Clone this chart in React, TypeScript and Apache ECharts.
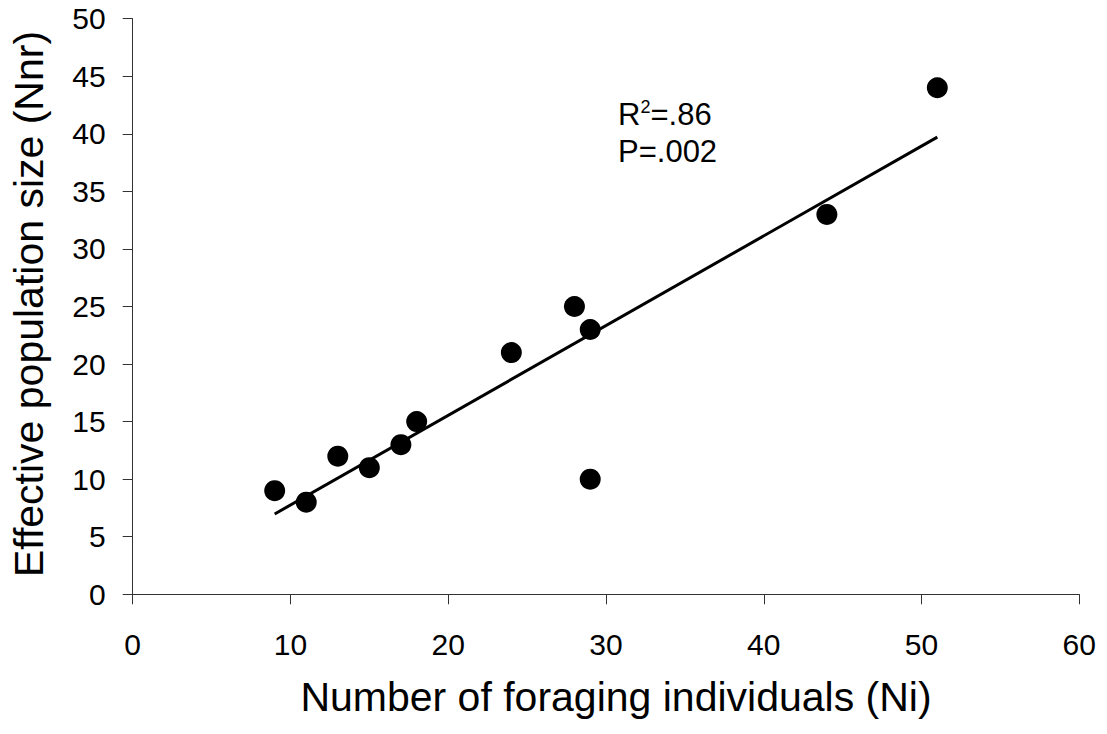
import React, { useEffect, useRef } from "react";
import * as echarts from "echarts";

// Foraging individuals (Ni) and effective population size (Nnr) per colony
const foragers: number[] = [9, 11, 13, 15, 17, 18, 24, 28, 29, 29, 44, 51];
const effectiveSize: number[] = [9, 8, 12, 11, 13, 15, 21, 25, 23, 10, 33, 44];

const xTicks = { min: 0, max: 60, interval: 10 };
const yTicks = { min: 0, max: 50, interval: 5 };

const statLines = { r2: ".86", p: ".002" };

const FONT = "Arial, 'Liberation Sans', Helvetica, sans-serif";

// Ordinary least-squares fit through the observations
function linearFit(xs: number[], ys: number[]) {
  const n = xs.length;
  const mx = xs.reduce((a, b) => a + b, 0) / n;
  const my = ys.reduce((a, b) => a + b, 0) / n;
  let sxy = 0;
  let sxx = 0;
  for (let i = 0; i < n; i++) {
    sxy += (xs[i] - mx) * (ys[i] - my);
    sxx += (xs[i] - mx) * (xs[i] - mx);
  }
  const slope = sxy / sxx;
  return { slope, intercept: my - slope * mx };
}

export default function App() {
  const ref = useRef<HTMLDivElement>(null);

  useEffect(() => {
    if (!ref.current) return;
    const chart = echarts.init(ref.current, undefined, { renderer: "svg" });

    const { slope, intercept } = linearFit(foragers, effectiveSize);
    const xLo = Math.min(...foragers);
    const xHi = Math.max(...foragers);
    const fitLine = [
      [xLo, intercept + slope * xLo],
      [xHi, intercept + slope * xHi],
    ];

    const axisColor = "#333";

    chart.setOption({
      animation: false,
      backgroundColor: "#ffffff",
      grid: { left: 132.7, right: 27.7, top: 18.7, bottom: 139.7, containLabel: false },
      xAxis: {
        type: "value",
        min: xTicks.min,
        max: xTicks.max,
        interval: xTicks.interval,
        splitLine: { show: false },
        axisLine: { show: true, onZero: false, lineStyle: { color: axisColor, width: 1 } },
        axisTick: { show: true, inside: false, length: 10, lineStyle: { color: axisColor } },
        axisLabel: { color: "#000", fontSize: 30, fontFamily: FONT, margin: 35 },
      },
      yAxis: {
        type: "value",
        min: yTicks.min,
        max: yTicks.max,
        interval: yTicks.interval,
        splitLine: { show: false },
        axisLine: { show: true, onZero: false, lineStyle: { color: axisColor, width: 1 } },
        axisTick: { show: true, inside: false, length: 10, lineStyle: { color: axisColor } },
        axisLabel: { color: "#000", fontSize: 30, fontFamily: FONT, margin: 27 },
      },
      series: [
        {
          type: "line",
          data: fitLine,
          showSymbol: false,
          symbol: "none",
          lineStyle: { color: "#000", width: 3 },
          z: 2,
        },
        {
          type: "scatter",
          data: foragers.map((x, i) => [x, effectiveSize[i]]),
          symbol: "circle",
          symbolSize: 21,
          itemStyle: { color: "#000", opacity: 1 },
          z: 3,
        },
      ],
      graphic: [
        {
          type: "text",
          x: 616,
          y: 717,
          style: {
            text: "Number of foraging individuals (Ni)",
            fontSize: 41,
            fontFamily: FONT,
            fill: "#000",
            align: "center",
            verticalAlign: "bottom",
          },
        },
        {
          type: "text",
          x: 29,
          y: 304,
          rotation: Math.PI / 2,
          style: {
            text: "Effective population size (Nnr)",
            fontSize: 41,
            fontFamily: FONT,
            fill: "#000",
            align: "center",
            verticalAlign: "middle",
          },
        },
        {
          type: "text",
          x: 618,
          y: 99,
          style: { text: "R", fontSize: 31, fontFamily: FONT, fill: "#000", verticalAlign: "top" },
        },
        {
          type: "text",
          x: 640.5,
          y: 98,
          style: { text: "2", fontSize: 18, fontFamily: FONT, fill: "#000", verticalAlign: "top" },
        },
        {
          type: "text",
          x: 650.5,
          y: 99,
          style: { text: "=" + statLines.r2, fontSize: 31, fontFamily: FONT, fill: "#000", verticalAlign: "top" },
        },
        {
          type: "text",
          x: 618,
          y: 136,
          style: { text: "P=" + statLines.p, fontSize: 31, fontFamily: FONT, fill: "#000", verticalAlign: "top" },
        },
      ],
    });

    return () => chart.dispose();
  }, []);

  return (
    <div
      ref={ref}
      style={{ position: "absolute", left: 0, top: 0, width: 1107, height: 734, background: "#fff" }}
    />
  );
}
